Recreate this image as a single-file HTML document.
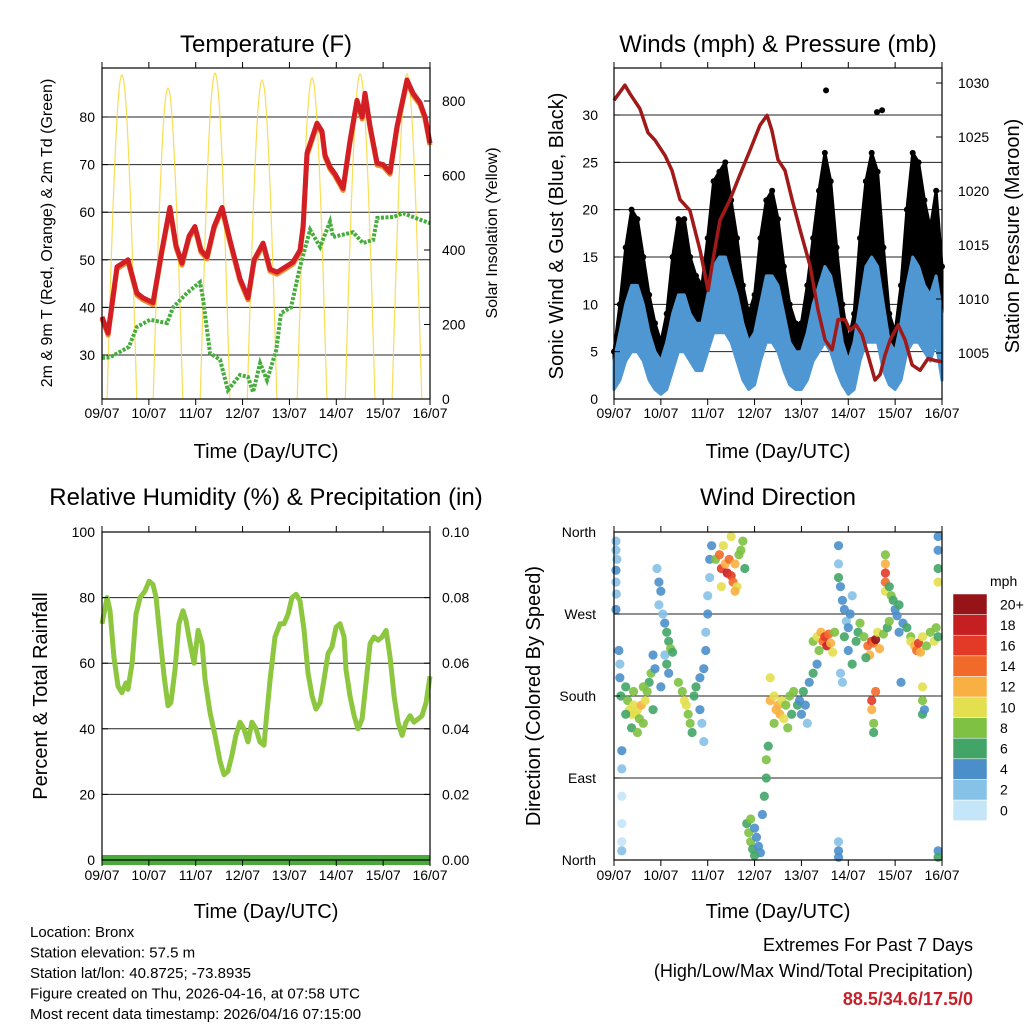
<!DOCTYPE html>
<html><head><meta charset="utf-8"><style>
html,body{margin:0;padding:0;background:#fff;}
svg{display:block;font-family:"Liberation Sans",Arial,sans-serif;}
</style></head><body>
<svg id="c" width="1024" height="1024" viewBox="0 0 1024 1024" xmlns="http://www.w3.org/2000/svg"></svg>
<script>
// ---------- DATA ----------
const dayLabels = ["09/07","10/07","11/07","12/07","13/07","14/07","15/07","16/07"];
const tempHours = [0,3.1,7.7,13.3,17.9,21,26.1,30.7,34.8,37.9,41,44.6,47.6,50.7,53.8,57.4,61.5,65.6,70.7,74.8,77.9,82.5,86.1,89.7,97.8,101.4,103,105,110.1,112.7,114.2,116.8,119.4,123.5,127,130.6,133.2,134.7,137.3,140.9,144,147.5,151.1,156.2,159.3,162.9,165.5,168];
const tempValues = [38,34.6,48.5,50,43,42,41,52,61,53,49.3,55,57,52,50.6,57,61,54,46,42,50,53.5,48,47.4,49.5,52,57,72.4,78.7,77,72,69.5,68,65,75,83.5,80,85,78,70.3,70,68.4,78,87.8,85,83,80,74.5];
const dewHours = [0,4,13.8,17.9,24.6,33.3,36.4,43.5,50.2,51.7,55.3,60.5,64.5,70.7,74.8,77.4,81,84.5,89.2,91.7,96.8,101.4,106.6,111.7,116.8,118.3,128.6,133.7,138.9,141,149.2,154.3,163,168];
const dewValues = [29.4,29.5,31.7,35.9,37.4,36.7,40,43,45.3,42,30.4,29,22.6,25.8,25.4,22.2,28.3,24.7,31,38.8,40,48.5,56.3,52.7,58,54.8,55.8,53.5,54.2,58.8,59,59.8,58.4,57.7];
const solarPeakHours = [10.2,33.8,57.9,82,107.6,132.2,156.2];
const solarPeakValues = [870,835,875,856,862,873,873];
const gustHigh = [5,10,16,20,19,15,11,8,6,9,15,19,19,15,13,12,17,23,24,25,21,17,12,9,11,17,21,22,19,14,10,8,8,12,17,22,26,23,16,10,6,9,17,23,26,24,16,9,7,12,20,26,25,21,18,22,14];
const gustLow  = [2,3,6,8,8,6,4,2,1,3,5,8,7,6,5,5,7,9,9,9,8,6,4,2,3,6,8,8,7,5,3,2,2,4,6,7,8,7,5,3,2,3,6,8,8,8,5,3,2,4,7,8,8,7,6,8,4];
const windHigh = [4,7,10,12,12,10,7,5,4,6,9,11,11,9,8,8,11,14,15,15,13,11,8,6,7,10,13,13,12,9,6,5,5,7,10,12,14,13,10,6,4,6,10,14,15,14,10,6,5,8,12,15,14,12,11,13,9];
const windLow  = [1,2,4,5,5,4,2,1,0.5,1,3,5,5,4,3,3,5,7,7,7,6,4,2,1,1.5,4,6,6,5,3,1.5,1,1,2,4,5,6,5,3,1.5,0.5,1,4,6,6,6,3,1.5,1,2,5,6,6,5,4,6,2];
const gustOutlierHours = [108.6,134.7,137.3];
const gustOutlierValues = [32.6,30.3,30.5];
const pressHours = [0,5.6,8.2,13.3,17.4,21,26.1,29.7,33.8,38.9,44.1,48.2,50.2,54.3,59.4,64.5,69.7,74.8,78.4,80.9,84,87.6,91.2,95.3,100.4,104.5,108.1,111.7,114.8,118.3,120.9,124,127,130.1,133.7,136.3,138.8,141.4,145.5,149.1,152.7,156.8,160.9,164.4,168];
const pressValues = [1028.4,1029.8,1029,1027.6,1025.4,1024.7,1023.3,1021.9,1019.2,1018.2,1014.5,1010.8,1013.1,1017.3,1019.2,1021.5,1023.8,1026.1,1027,1025.6,1022.9,1021.9,1019.2,1016.4,1013.1,1009,1006.2,1005.3,1008.1,1008.1,1007.1,1007.6,1006.7,1004.8,1002.5,1003,1004.8,1006.2,1007.6,1006.2,1003.9,1003.4,1004.5,1004.3,1004.2];
const rhHours = [0,2.6,4.1,6.1,8.2,10.2,12.3,13.3,15.4,17.4,19.5,22,24.1,26.1,27.7,29.7,31.8,33.8,35.3,37.4,39.4,41.5,43,45.1,47.1,49.2,51.2,52.8,55.3,57.9,60.5,62.5,64.5,66.6,68.6,70.7,72.7,74.8,76.8,78.9,80.9,83,84,86.1,88.6,91.2,93.2,95.3,97.3,99.4,101.4,103.5,105.5,107.6,109.6,111.7,113.7,115.8,117.8,119.9,121.9,124,125,127,129.1,131.1,133.2,135.2,137.3,139.3,141.4,143.4,145.5,147.5,149.6,151.6,153.7,155.7,157.8,159.8,161.9,163.9,166,168];
const rhValues = [72,80,76,62,53,51,54,52,60,75,80,82,85,84,80,68,56,47,48,58,72,76,73,66,60,70,66,55,45,38,30,26,27,32,38,42,40,36,42,40,36,35,42,55,68,72,72,75,80,81,79,70,57,50,46,48,55,63,65,71,72,68,58,50,44,40,43,54,66,68,67,68,70,62,50,42,38,42,44,42,43,44,48,56];
const precipHours = [0,168];
const precipValues = [0,0];
const dirHours = [1,1,1.5,1,1,1.2,1,2.5,3,3,3.5,4,4,4,4,4,4, 6,7,8,9,10,11,12,13,14,15,16,17,18,19,20,9,12,10,6,15,21,20, 22,23,24,23,25,26,27,28,29,26,27,28,24,30, 33,35,36,37,38,39,40,41,42,44,45,46,44, 46,47,47,48,48,49,49,50, 52,54,55,57,58,59,60,61,62,63,64,65,66,60,56,67,55,62, 68,69,70,71,72,73,74,75,72,70, 76,77,78,78,79, 80,82,83,84,85,86,87,88,90,91,92,94,95,96,98,99,97,82,89,80, 100,102,104, 102,104,106,107,108,109,110,111,112,113,105, 115,116,117,118,119,120,121,122,118,120,122,124,125,126,116,117,115,115,115,115,115, 128,130,131,132,133,134,135,136,138,140,141,129,132,132,133,133,134, 139,139,139,139,139, 141,142,143,144,145,146,148,150,152,146,147, 152,154,155,156,157,158,160,162,164,165,166,158,158,158,159, 166,166,166,166,166,166];
const dirDegrees = [350,340,330,318,305,292,275,230,215,200,180,120,100,70,40,20,10, 190,175,165,160,170,160,165,155,170,150,175,185,195,205,165,145,140,185,160,190,210,225, 320,305,295,280,270,260,250,240,232,225,215,205,190,228, 195,185,175,170,160,150,140,180,190,165,150,130,200, 210,230,250,270,290,310,330,345, 330,335,320,325,315,330,312,305,325,300,335,340,350,355,345,320,300,295, 40,30,20,12,35,25,15,8,5,45, 50,70,90,110,125, 175,180,165,170,160,175,155,170,180,160,185,170,175,160,170,150,185,150,145,200, 195,205,215, 240,245,250,240,245,235,248,238,228,250,230, 325,300,285,275,262,255,270,290,245,230,215,240,250,260,205,195,345,310,20,10,3, 245,235,225,240,238,242,250,232,248,255,262,222,175,165,150,140,185, 335,325,315,305,295, 300,290,285,275,268,280,260,255,245,250,195, 240,235,230,238,228,245,235,250,240,255,245,190,175,160,165, 355,340,320,305,10,3];
const dirSpeeds = [2,2,3,4,2,2,4,4,3,4,6,4,2,1,1,1,2, 6,8,10,10,10,10,10,8,12,8,10,8,6,8,6,6,8,8,6,8,4,4, 2,4,4,2,2,4,6,6,8,2,6,4,4,6, 8,8,10,10,8,8,6,6,6,4,2,2,4, 4,4,2,4,2,2,4,4, 8,14,16,12,18,14,16,14,12,10,8,8,8,10,10,6,10,12, 6,8,8,6,4,4,4,4,6,8, 4,6,6,8,6, 12,10,12,12,12,10,10,8,8,6,8,6,4,4,4,2,6,8,8,10, 4,6,4, 8,10,12,14,16,18,14,12,10,8,8, 2,4,4,4,2,4,4,2,6,4,6,6,6,8,2,2,4,6,2,4,4, 8,14,12,16,14,20,10,12,8,6,8,6,16,12,8,6,14, 8,12,16,14,10, 6,8,6,4,4,6,4,6,8,4,4, 10,12,14,16,12,10,8,8,10,8,6,10,8,6,4, 4,4,6,10,4,6];
const speedBinLabels = ["0","2","4","6","8","10","12","14","16","18","20+"];
const speedColors = ["#c4e6f8","#86c1e8","#4a8fca","#42a567","#7ec143","#e3df4f","#f9b043","#f26a2a","#e23a27","#c51f22","#961418"];
const extremesText = "88.5/34.6/17.5/0";

// ---------- HELPERS ----------
const svg = document.getElementById('c');
const NS = "http://www.w3.org/2000/svg";
function el(tag, attrs, parent){const e=document.createElementNS(NS,tag);for(const k in attrs)e.setAttribute(k,attrs[k]);(parent||svg).appendChild(e);return e;}
function lin(d0,d1,r0,r1){return v=>r0+(v-d0)/(d1-d0)*(r1-r0);}
function txt(s,x,y,size,anchor,extra){const t=el('text',Object.assign({x:x,y:y,'font-size':size,'text-anchor':anchor||'middle',fill:'#000'},extra||{}));t.textContent=s;return t;}
function pathFrom(xs,ys,X,Y){return xs.map((t,i)=>(i?'L':'M')+X(t).toFixed(1)+' '+Y(ys[i]).toFixed(1)).join(' ');}

function frame(x0,y0,x1,y1,name){
  const r=el('rect',{x:x0,y:y0,width:x1-x0,height:y1-y0,fill:'none',stroke:'#000','stroke-width':1.2});
  
  
}
function xAxis(X,y0,y1,labelY,titleY,name){
  const g=el('g',{});
  
  
  dayLabels.forEach((d,i)=>{
    const x=X(i*24);
    el('line',{x1:x,x2:x,y1:y1,y2:y1+6,stroke:'#000'},g);
    el('line',{x1:x,x2:x,y1:y0,y2:y0-6,stroke:'#000'},g);
    const t=txt(d,x,labelY,14,'middle');g.appendChild(t);
    
    
  });
  const tt=txt('Time (Day/UTC)',(X(0)+X(168))/2,titleY,20,'middle');
  
  
}
function grid(vals,Y,x0,x1,name){
  vals.forEach(v=>{const l=el('line',{x1:x0,x2:x1,y1:Y(v),y2:Y(v),stroke:'#222','stroke-width':1});
    
    });
}
function yTicks(vals,labels,Y,x,side,name,xEdge){
  vals.forEach((v,i)=>{
    const y=Y(v);
    el('line',{x1:xEdge,x2:xEdge+(side==='left'?6:-6),y1:y,y2:y,stroke:'#000'});
    const t=txt(labels[i],x,y+5,14,side==='left'?'end':'start');
    
    
  });
}
function vTitle(s,x,y,size,name){
  const t=txt(s,x,y,size,'middle',{transform:'rotate(-90 '+x+' '+y+')'});
  
  
}

// ---------- PANEL 1 ----------
const X1=lin(0,168,102,430), YT=lin(30,80,355,117), YS=lin(0,800,399,101);
let t1=txt('Temperature (F)',266,52,24);


grid([30,40,50,60,70,80],YT,102,430,'temp-gridline');
const solarG=el('g',{fill:'none',stroke:'#f7d838','stroke-width':1.2,opacity:0.85});


solarPeakHours.forEach((pt,i)=>{
  let d='';
  for(let k=0;k<=30;k++){const h=pt-7.6+k*15.2/30;const v=solarPeakValues[i]*Math.sin(Math.PI*k/30);d+=(k?'L':'M')+X1(h).toFixed(1)+' '+YS(v).toFixed(1);}
  el('path',{d:d},solarG);
});
const dewP=el('path',{d:pathFrom(dewHours,dewValues,X1,YT),fill:'none',stroke:'#46ad3c','stroke-width':4,'stroke-dasharray':'3 1.5'});


const t9=el('path',{d:pathFrom(tempHours,tempValues,X1,YT),fill:'none',stroke:'#f08a2c','stroke-width':5,transform:'translate(0 2)','stroke-linejoin':'round'});


const t2=el('path',{d:pathFrom(tempHours,tempValues,X1,YT),fill:'none',stroke:'#d21f26','stroke-width':5,'stroke-linejoin':'round'});


frame(102,68,430,399,'temperature-plot-frame');
yTicks([30,40,50,60,70,80],['30','40','50','60','70','80'],YT,95,'left','temp-y-tick-label',102);
yTicks([0,200,400,600,800],['0','200','400','600','800'],YS,442,'right','solar-y-tick-label',430);
xAxis(X1,68,399,418,458,'temp-x-axis');
vTitle('2m & 9m T (Red, Orange) & 2m Td (Green)',52,233,16,'temp-y-axis-title');
vTitle('Solar Insolation (Yellow)',497,233,16,'solar-y-axis-title');

// ---------- PANEL 2 ----------
const X2=lin(0,168,614,942), YW=lin(0,30,399,115), YP=lin(1005,1030,353,83);
let t2t=txt('Winds (mph) & Pressure (mb)',778,52,24);


grid([5,10,15,20,25,30],YW,614,942,'wind-gridline');
function band(hi,lo,color,name){
  let d='';
  hi.forEach((v,i)=>{d+=(i?'L':'M')+X2(i*3).toFixed(1)+' '+YW(v).toFixed(1);});
  for(let i=lo.length-1;i>=0;i--){d+='L'+X2(i*3).toFixed(1)+' '+YW(lo[i]).toFixed(1);}
  const p=el('path',{d:d+'Z',fill:color,stroke:color,'stroke-width':3,'stroke-linejoin':'round'});
  
  
}
band(gustHigh,gustLow,'#000','gust-points');
gustHigh.forEach((v,i)=>{const c=el('circle',{cx:X2(i*3),cy:YW(v),r:3,fill:'#000'});
  
  });
gustOutlierHours.forEach((h,i)=>{const c=el('circle',{cx:X2(h),cy:YW(gustOutlierValues[i]),r:3,fill:'#000'});
  
  });
band(windHigh,windLow,'#4f97d2','wind-speed-line');
const pr=el('path',{d:pathFrom(pressHours,pressValues,X2,YP),fill:'none',stroke:'#a01a1a','stroke-width':3.5,'stroke-linejoin':'round'});


frame(614,68,942,399,'winds-plot-frame');
yTicks([0,5,10,15,20,25,30],['0','5','10','15','20','25','30'],YW,598,'left','wind-y-tick-label',614);
yTicks([1005,1010,1015,1020,1025,1030],['1005','1010','1015','1020','1025','1030'],YP,958,'right','pressure-y-tick-label',942);
xAxis(X2,68,399,418,458,'winds-x-axis');
vTitle('Sonic Wind & Gust (Blue, Black)',563,236,20,'wind-y-axis-title');
vTitle('Station Pressure (Maroon)',1019,236,20,'pressure-y-axis-title');

// ---------- PANEL 3 ----------
const X3=X1, YR=lin(0,100,860,532), YPr=lin(0,0.1,860,532);
let t3=txt('Relative Humidity (%) & Precipitation (in)',266,505,24);


grid([20,40,60,80],YR,102,430,'rh-gridline');
const rh=el('path',{d:pathFrom(rhHours,rhValues,X3,YR),fill:'none',stroke:'#8dc63f','stroke-width':5,'stroke-linejoin':'round'});


const pc=el('path',{d:pathFrom(precipHours,precipValues,X3,YPr),fill:'none',stroke:'#4aaa3c','stroke-width':10});


frame(102,532,430,860,'humidity-plot-frame');
yTicks([0,20,40,60,80,100],['0','20','40','60','80','100'],YR,95,'left','rh-y-tick-label',102);
yTicks([0,0.02,0.04,0.06,0.08,0.1],['0.00','0.02','0.04','0.06','0.08','0.10'],YPr,442,'right','precip-y-tick-label',430);
xAxis(X3,532,860,880,918,'humidity-x-axis');
vTitle('Percent & Total Rainfall',47,696,20,'humidity-y-axis-title');

// ---------- PANEL 4 ----------
const X4=X2, YD=lin(0,360,860,532);
let t4=txt('Wind Direction',778,505,24);


grid([90,180,270],YD,614,942,'direction-gridline');
dirHours.forEach((h,i)=>{
  const b=Math.min(10,Math.floor(dirSpeeds[i]/2));
  const c=el('circle',{cx:X4(h),cy:YD(dirDegrees[i]),r:4.6,fill:speedColors[b],opacity:0.9});
  
  
});
frame(614,532,942,860,'direction-plot-frame');
yTicks([0,90,180,270,360],['North','East','South','West','North'],YD,596,'left','direction-y-tick-label',614);
xAxis(X4,532,860,880,918,'direction-x-axis');
vTitle('Direction (Colored By Speed)',540,696,20,'direction-y-axis-title');
const cbTop=594, cbH=20.6;
speedColors.forEach((col,i)=>{
  const y=cbTop+(10-i)*cbH;
  const r=el('rect',{x:953,y:y,width:34,height:cbH,fill:col,stroke:'#fff','stroke-width':0.5});
  
  
  const t=txt(speedBinLabels[i],1000,y+cbH/2+5,14,'start');
  
  
});
let mph=txt('mph',990,586,14,'start');



// ---------- FOOTER ----------
const info=["Location: Bronx","Station elevation: 57.5 m","Station lat/lon: 40.8725; -73.8935","Figure created on Thu, 2026-04-16, at 07:58 UTC","Most recent data timestamp: 2026/04/16 07:15:00"];
info.forEach((s,i)=>{const t=txt(s,30,937+i*20.5,15,'start');
  
  });
let e1=txt('Extremes For Past 7 Days',973,951,18,'end');


let e2=txt('(High/Low/Max Wind/Total Precipitation)',973,977,18,'end');


let e3=txt(extremesText,973,1005,18,'end',{fill:'#c8202a','font-weight':'bold'});


</script>
</body></html>
